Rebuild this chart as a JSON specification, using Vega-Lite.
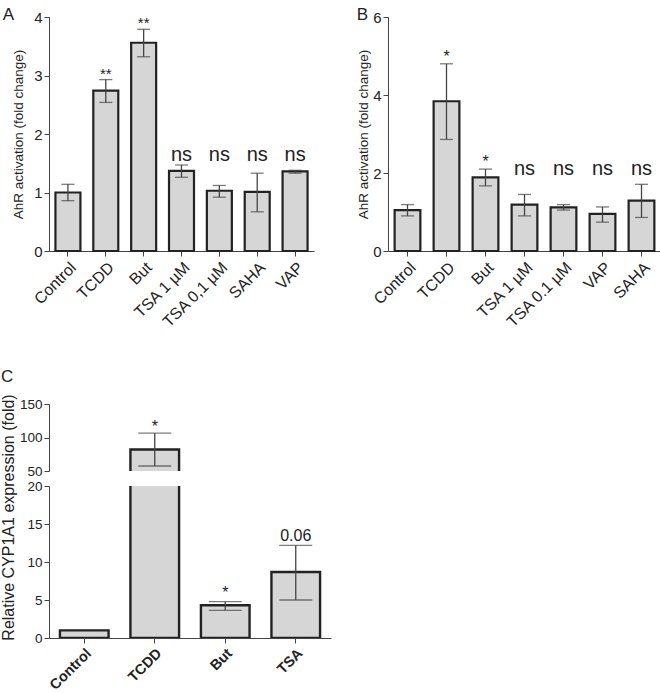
{
  "$schema": "https://vega.github.io/schema/vega-lite/v6.json",
  "padding": {"left": 0, "top": 6, "right": 0, "bottom": 0},
  "background": "white",
  "config": {
    "font": "Liberation Sans",
    "view": {"stroke": null},
    "axis": {
      "grid": false,
      "domainColor": "#444",
      "tickColor": "#444",
      "labelColor": "#222",
      "titleColor": "#222",
      "labelFontSize": 15,
      "titleFontSize": 13.5,
      "titleFontWeight": "normal",
      "tickSize": 5,
      "labelOverlap": false,
      "labelFont": "Liberation Sans",
      "titleFont": "Liberation Sans"
    },
    "title": {"fontSize": 17, "fontWeight": "normal", "anchor": "start", "frame": "bounds", "color": "#222", "font": "Liberation Sans"}
  },
  "datasets": {
    "A": [
      {"g": "Control", "v": 1.0, "lo": 0.86, "hi": 1.14, "sig": ""},
      {"g": "TCDD", "v": 2.74, "lo": 2.54, "hi": 2.93, "sig": "**"},
      {"g": "But", "v": 3.56, "lo": 3.32, "hi": 3.79, "sig": "**"},
      {"g": "TSA 1 µM", "v": 1.37, "lo": 1.26, "hi": 1.47, "sig": "ns"},
      {"g": "TSA 0,1 µM", "v": 1.03, "lo": 0.92, "hi": 1.12, "sig": "ns"},
      {"g": "SAHA", "v": 1.01, "lo": 0.67, "hi": 1.33, "sig": "ns"},
      {"g": "VAP", "v": 1.36, "lo": 1.33, "hi": 1.38, "sig": "ns"}
    ],
    "B": [
      {"g": "Control", "v": 1.05, "lo": 0.9, "hi": 1.19, "sig": ""},
      {"g": "TCDD", "v": 3.84, "lo": 2.86, "hi": 4.8, "sig": "*"},
      {"g": "But", "v": 1.89, "lo": 1.67, "hi": 2.1, "sig": "*"},
      {"g": "TSA 1 µM", "v": 1.19, "lo": 0.9, "hi": 1.45, "sig": "ns"},
      {"g": "TSA 0.1 µM", "v": 1.12, "lo": 1.05, "hi": 1.19, "sig": "ns"},
      {"g": "VAP", "v": 0.95, "lo": 0.74, "hi": 1.13, "sig": "ns"},
      {"g": "SAHA", "v": 1.29, "lo": 0.86, "hi": 1.71, "sig": "ns"}
    ],
    "C": [
      {"g": "Control", "v": 1.0, "lo": null, "hi": null, "sig": ""},
      {"g": "TCDD", "v": 82, "lo": 57.5, "hi": 106.5, "sig": "*"},
      {"g": "But", "v": 4.3, "lo": 3.64, "hi": 4.78, "sig": "*"},
      {"g": "TSA", "v": 8.68, "lo": 5.0, "hi": 12.2, "sig": "0.06"}
    ]
  },
  "vconcat": [
    {
      "hconcat": [
        {
          "title": {"text": "A", "offset": -14, "dx": -9},
          "width": 265,
          "height": 234,
          "data": {"name": "A"},
          "encoding": {
            "x": {"field": "g", "type": "nominal", "sort": null, "title": null,
              "scale": {"paddingInner": 0.34, "paddingOuter": 0.17},
              "axis": {"labelAngle": -45, "labelFontSize": 16, "labelPadding": 3}}
          },
          "layer": [
            {"mark": {"type": "bar", "fill": "#d6d6d6", "stroke": "#222", "strokeWidth": 2.2},
              "encoding": {"y": {"field": "v", "type": "quantitative", "title": "AhR activation (fold change)",
                "scale": {"domain": [0, 4]}, "axis": {"values": [0, 1, 2, 3, 4], "tickCount": 20, "format": "d", "titlePadding": 8, "labelOverlap": false}}}},
            {"mark": {"type": "rule", "color": "#444", "strokeWidth": 1.3},
              "encoding": {"y": {"field": "lo", "type": "quantitative", "title": "AhR activation (fold change)"}, "y2": {"field": "hi"}}},
            {"mark": {"type": "tick", "color": "#444", "thickness": 1.3, "size": 13},
              "encoding": {"y": {"field": "lo", "type": "quantitative", "title": "AhR activation (fold change)"}}},
            {"mark": {"type": "tick", "color": "#444", "thickness": 1.3, "size": 13},
              "encoding": {"y": {"field": "hi", "type": "quantitative", "title": "AhR activation (fold change)"}}},
            {"transform": [{"filter": "datum.sig == '**' || datum.sig == '*'"}],
              "mark": {"type": "text", "fontSize": 15, "baseline": "alphabetic", "dy": -1, "color": "#222"},
              "encoding": {"y": {"field": "hi", "type": "quantitative", "title": "AhR activation (fold change)"}, "text": {"field": "sig"}}},
            {"transform": [{"filter": "datum.sig == 'ns'"}],
              "mark": {"type": "text", "fontSize": 20, "baseline": "alphabetic", "color": "#222"},
              "encoding": {"y": {"datum": 1.54}, "text": {"field": "sig"}}}
          ]
        },
        {
          "title": {"text": "B", "offset": -14},
          "width": 273,
          "height": 234,
          "data": {"name": "B"},
          "encoding": {
            "x": {"field": "g", "type": "nominal", "sort": null, "title": null,
              "scale": {"paddingInner": 0.34, "paddingOuter": 0.17},
              "axis": {"labelAngle": -45, "labelFontSize": 16, "labelPadding": 3}}
          },
          "layer": [
            {"mark": {"type": "bar", "fill": "#d6d6d6", "stroke": "#222", "strokeWidth": 2.2},
              "encoding": {"y": {"field": "v", "type": "quantitative", "title": "AhR activation (fold change)",
                "scale": {"domain": [0, 6]}, "axis": {"values": [0, 2, 4, 6], "tickCount": 20, "format": "d", "titlePadding": 2, "labelOverlap": false}}}},
            {"mark": {"type": "rule", "color": "#444", "strokeWidth": 1.3},
              "encoding": {"y": {"field": "lo", "type": "quantitative", "title": "AhR activation (fold change)"}, "y2": {"field": "hi"}}},
            {"mark": {"type": "tick", "color": "#444", "thickness": 1.3, "size": 13},
              "encoding": {"y": {"field": "lo", "type": "quantitative", "title": "AhR activation (fold change)"}}},
            {"mark": {"type": "tick", "color": "#444", "thickness": 1.3, "size": 13},
              "encoding": {"y": {"field": "hi", "type": "quantitative", "title": "AhR activation (fold change)"}}},
            {"transform": [{"filter": "datum.sig == '**' || datum.sig == '*'"}],
              "mark": {"type": "text", "fontSize": 16, "baseline": "alphabetic", "dy": -2, "color": "#222"},
              "encoding": {"y": {"field": "hi", "type": "quantitative", "title": "AhR activation (fold change)"}, "text": {"field": "sig"}}},
            {"transform": [{"filter": "datum.sig == 'ns'"}],
              "mark": {"type": "text", "fontSize": 20, "baseline": "alphabetic", "color": "#222"},
              "encoding": {"y": {"datum": 1.95}, "text": {"field": "sig"}}}
          ]
        }
      ],
      "spacing": 74,
      "bounds": "flush"
    },
    {
      "title": {"text": "C", "offset": 8},
      "vconcat": [
        {
          "width": 282,
          "height": 67,
          "data": {"name": "C"},
          "encoding": {
            "x": {"field": "g", "type": "nominal", "sort": null, "title": null,
              "scale": {"paddingInner": 0.31, "paddingOuter": 0.155}, "axis": null}
          },
          "layer": [
            {"mark": {"type": "bar", "fill": "#d6d6d6", "stroke": "#222", "strokeWidth": 2.4, "clip": true},
              "encoding": {"y": {"field": "v", "type": "quantitative", "title": null,
                "scale": {"domain": [50, 150]}, "axis": {"values": [50, 100, 150], "tickCount": 20, "format": "d", "labelFontSize": 13.5, "labelOverlap": false}}}},
            {"transform": [{"filter": "datum.v > 20"}],
              "mark": {"type": "rule", "color": "#444", "strokeWidth": 1.3, "clip": true},
              "encoding": {"y": {"field": "lo", "type": "quantitative", "title": null}, "y2": {"field": "hi"}}},
            {"transform": [{"filter": "datum.v > 20"}],
              "mark": {"type": "tick", "color": "#444", "thickness": 1.3, "size": 33, "clip": true},
              "encoding": {"y": {"field": "lo", "type": "quantitative", "title": null}}},
            {"transform": [{"filter": "datum.v > 20"}],
              "mark": {"type": "tick", "color": "#444", "thickness": 1.3, "size": 33, "clip": true},
              "encoding": {"y": {"field": "hi", "type": "quantitative", "title": null}}},
            {"transform": [{"filter": "datum.v > 20"}],
              "mark": {"type": "text", "fontSize": 16, "baseline": "alphabetic", "dy": -1, "color": "#222"},
              "encoding": {"y": {"field": "hi", "type": "quantitative", "title": null}, "text": {"field": "sig"}}}
          ]
        },
        {
          "width": 282,
          "height": 152,
          "data": {"name": "C"},
          "encoding": {
            "x": {"field": "g", "type": "nominal", "sort": null, "title": null,
              "scale": {"paddingInner": 0.31, "paddingOuter": 0.155},
              "axis": {"labelAngle": -45, "labelFontSize": 14.5, "labelFontWeight": "bold", "labelPadding": 3}}
          },
          "layer": [
            {"mark": {"type": "bar", "fill": "#d6d6d6", "stroke": "#222", "strokeWidth": 2.4, "clip": true},
              "encoding": {"y": {"field": "v", "type": "quantitative", "title": "Relative CYP1A1 expression (fold)",
                "scale": {"domain": [0, 20]}, "axis": {"values": [0, 5, 10, 15, 20], "tickCount": 20, "format": "d", "labelFontSize": 13.5, "labelOverlap": false, "titleFontSize": 16, "titleY": 31, "titlePadding": 10}}}},
            {"transform": [{"filter": "datum.v <= 20"}],
              "mark": {"type": "rule", "color": "#444", "strokeWidth": 1.3, "clip": true},
              "encoding": {"y": {"field": "lo", "type": "quantitative", "title": "Relative CYP1A1 expression (fold)"}, "y2": {"field": "hi"}}},
            {"transform": [{"filter": "datum.v <= 20"}],
              "mark": {"type": "tick", "color": "#444", "thickness": 1.3, "size": 33, "clip": true},
              "encoding": {"y": {"field": "lo", "type": "quantitative", "title": "Relative CYP1A1 expression (fold)"}}},
            {"transform": [{"filter": "datum.v <= 20"}],
              "mark": {"type": "tick", "color": "#444", "thickness": 1.3, "size": 33, "clip": true},
              "encoding": {"y": {"field": "hi", "type": "quantitative", "title": "Relative CYP1A1 expression (fold)"}}},
            {"transform": [{"filter": "datum.v <= 20 && datum.sig != ''"}],
              "mark": {"type": "text", "fontSize": 16, "baseline": "alphabetic", "dy": -4, "color": "#222"},
              "encoding": {"y": {"field": "hi", "type": "quantitative", "title": "Relative CYP1A1 expression (fold)"}, "text": {"field": "sig"}}}
          ]
        }
      ],
      "spacing": 15,
      "bounds": "flush"
    }
  ],
  "spacing": 36
}
